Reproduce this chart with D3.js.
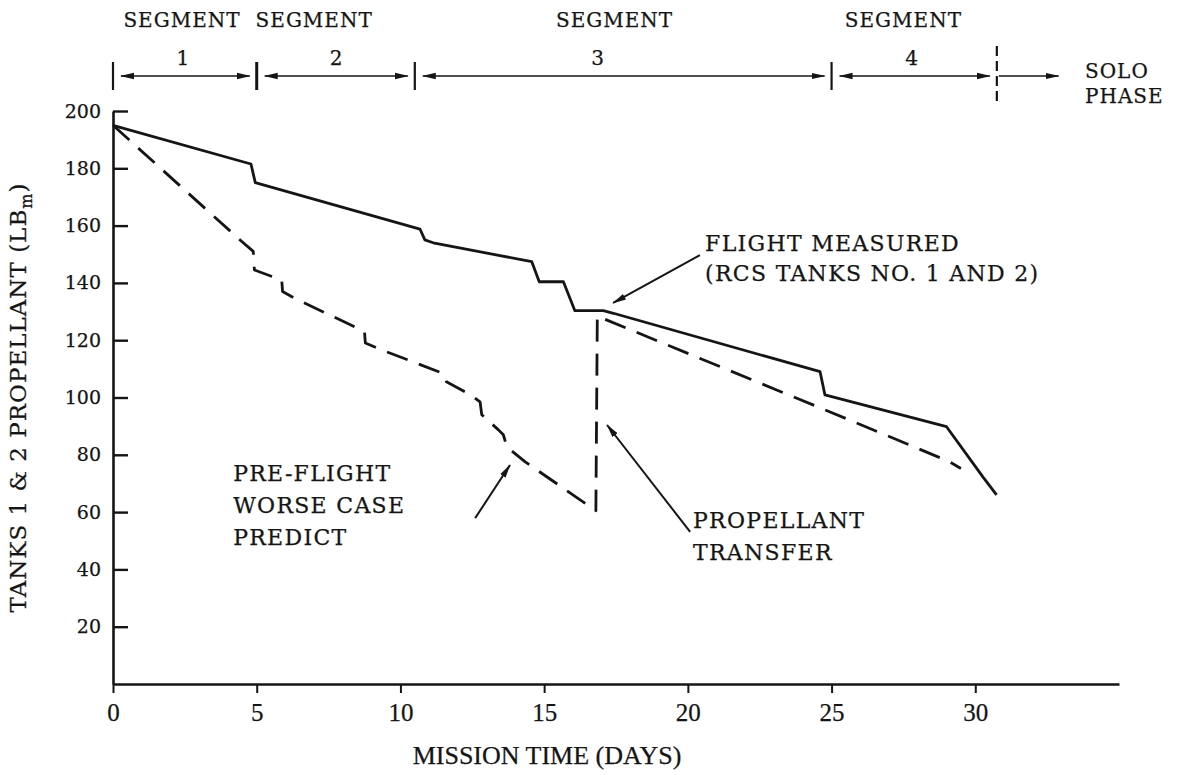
<!DOCTYPE html>
<html>
<head>
<meta charset="utf-8">
<script src="https://cdn.jsdelivr.net/npm/d3@7"></script>
<style>
  body { margin: 0; background: #fff; }
  text { font-family: "DejaVu Serif", serif; fill: #151515; stroke: #151515; stroke-width: 0.25px; }
</style>
</head>
<body>
<svg id="chart" width="1178" height="775"></svg>
<script>
// Axis ticks
const dayTicks = [0, 5, 10, 15, 20, 25, 30];
const lbTicks = [20, 40, 60, 80, 100, 120, 140, 160, 180, 200];

// Flight measured propellant, RCS tanks 1 and 2
const measuredDays = [0, 4.8, 4.95, 10.68, 10.85, 11.14, 14.57, 14.83, 15.67, 16.07, 17.06, 17.41, 24.6, 24.77, 29.0, 30.27, 30.74];
const measuredLb   = [195, 181.5, 175, 158.8, 155, 154, 147.4, 140.4, 140.4, 130.3, 130.3, 129.4, 109, 100.9, 89.8, 72.2, 66];

// Pre-flight worse case prediction (with propellant transfer near day 17)
const predictDays = [0, 4.42, 4.88, 4.92, 5.87, 5.9, 6.33, 8.75, 8.78, 9.35, 11.49, 11.6, 12.42, 12.77, 12.83, 13.41, 13.58, 13.7, 14.33, 16.8, 16.85, 25.64, 29.1, 29.5];
const predictLb   = [195, 155, 151, 144.5, 141, 137, 134.6, 123, 119, 116.6, 108.4, 105.5, 101, 98.5, 94, 88.7, 87, 82.8, 77.6, 60.5, 128.4, 92.1, 77.6, 75.2];

// Mission segments (day boundaries) and labels
const segmentBounds = [0, 5, 10.5, 25, 30.75];
const segmentNumbers = ["1", "2", "3", "4"];
const segmentNumberDays = [2.45, 7.78, 16.88, 27.8];
const segmentTitleDays = [2.4, 7.0, 17.45, 27.5];
const soloArrowEndDay = 32.9;

const svg = d3.select("#chart");
const x = d3.scaleLinear().domain([0, 35]).range([113, 1119]);
const y = d3.scaleLinear().domain([0, 200]).range([684, 111]);

const ink = "#151515";

// arrowhead marker
const defs = svg.append("defs");
defs.append("marker")
  .attr("id", "head")
  .attr("viewBox", "0 0 14 8")
  .attr("refX", 13).attr("refY", 4)
  .attr("markerWidth", 14).attr("markerHeight", 8)
  .attr("markerUnits", "userSpaceOnUse")
  .attr("orient", "auto-start-reverse")
  .append("path").attr("d", "M0,0.8 L14,4 L0,7.2 Z").attr("fill", ink);

// X axis
const xAxis = d3.axisBottom(x).tickValues(dayTicks).tickSizeInner(9).tickSizeOuter(0).tickPadding(10);
const gx = svg.append("g").attr("transform", `translate(0,${y(0)})`).call(xAxis);
gx.select(".domain").attr("stroke", ink).attr("stroke-width", 2.6);
gx.selectAll(".tick line").attr("stroke", ink).attr("stroke-width", 2);
gx.selectAll(".tick text")
  .style("font-family", "'Liberation Serif', serif")
  .style("font-size", "25px").attr("fill", ink);

// Y axis with inward ticks
const yAxis = d3.axisLeft(y).tickValues(lbTicks).tickSizeInner(-15).tickSizeOuter(0).tickPadding(12);
const gy = svg.append("g").attr("transform", `translate(${x(0)},0)`).call(yAxis);
gy.select(".domain").attr("stroke", ink).attr("stroke-width", 2.6);
gy.selectAll(".tick line").attr("stroke", ink).attr("stroke-width", 2.4);
gy.selectAll(".tick text").style("font-size", "19px").attr("fill", ink);

// Axis titles
svg.append("text")
  .attr("x", 547).attr("y", 764)
  .attr("text-anchor", "middle")
  .style("font-family", "'Liberation Serif', serif")
  .style("font-size", "26px")
  .text("MISSION TIME (DAYS)");

const yTitle = svg.append("text")
  .attr("transform", `translate(26,${(y(0) + y(200)) / 2}) rotate(-90)`)
  .attr("text-anchor", "middle")
  .style("font-size", "23px").style("letter-spacing", "1px");
yTitle.append("tspan").text("TANKS 1 & 2 PROPELLANT (LB");
yTitle.append("tspan").attr("dy", 6).style("font-size", "16px").text("m");
yTitle.append("tspan").attr("dy", -6).text(")");

// Data lines
const line = d3.line().x(d => x(d[0])).y(d => y(d[1]));
const measured = measuredDays.map((d, i) => [d, measuredLb[i]]);
const predict = predictDays.map((d, i) => [d, predictLb[i]]);

svg.append("path").datum(measured)
  .attr("d", line).attr("fill", "none")
  .attr("stroke", ink).attr("stroke-width", 2.8)
  .attr("stroke-linejoin", "round");

svg.append("path").datum(predict)
  .attr("d", line).attr("fill", "none")
  .attr("stroke", ink).attr("stroke-width", 2.8)
  .attr("stroke-dasharray", "22,12")
  .attr("stroke-linejoin", "round");

// Segment header
const hdrArrowY = 76, hdrBarTop = 62, hdrBarBot = 90;
const labelStyle = sel => sel.style("font-size", "22px").style("letter-spacing", "1.3px");
const headerStyle = sel => sel.style("font-size", "20px").style("letter-spacing", "1px");

segmentBounds.slice(0, 4).forEach((b, i) => {
  svg.append("line")
    .attr("x1", x(b)).attr("x2", x(b))
    .attr("y1", hdrBarTop).attr("y2", hdrBarBot)
    .attr("stroke", ink).attr("stroke-width", i === 1 ? 3 : 2.2);
});
// dashed boundary at start of solo phase
svg.append("line")
  .attr("x1", x(segmentBounds[4])).attr("x2", x(segmentBounds[4]))
  .attr("y1", 46).attr("y2", 106)
  .attr("stroke", ink).attr("stroke-width", 2.2)
  .attr("stroke-dasharray", "10,5");

for (let i = 0; i < 4; i++) {
  svg.append("line")
    .attr("x1", x(segmentBounds[i]) + 8).attr("x2", x(segmentBounds[i + 1]) - 7)
    .attr("y1", hdrArrowY).attr("y2", hdrArrowY)
    .attr("stroke", ink).attr("stroke-width", 1.6)
    .attr("marker-start", "url(#head)").attr("marker-end", "url(#head)");
  svg.append("text").call(headerStyle)
    .attr("x", x(segmentTitleDays[i])).attr("y", 27)
    .attr("text-anchor", "middle").text("SEGMENT");
  svg.append("text").call(headerStyle)
    .attr("x", x(segmentNumberDays[i])).attr("y", 65)
    .attr("text-anchor", "middle").text(segmentNumbers[i]);
}
svg.append("line")
  .attr("x1", x(segmentBounds[4]) + 2).attr("x2", x(soloArrowEndDay))
  .attr("y1", hdrArrowY).attr("y2", hdrArrowY)
  .attr("stroke", ink).attr("stroke-width", 1.6)
  .attr("marker-end", "url(#head)");
svg.append("text").call(headerStyle).attr("x", 1085).attr("y", 78).text("SOLO");
svg.append("text").call(headerStyle).attr("x", 1085).attr("y", 103).text("PHASE");

// Annotations (anchored in data units)
const notes = [
  { day: 20.6, lb: [153.9, 143.5], lines: ["FLIGHT MEASURED", "(RCS TANKS NO. 1 AND 2)"],
    from: [20.42, 149.7], to: [17.4, 133] },
  { day: 20.18, lb: [57.2, 46.1], lines: ["PROPELLANT", "TRANSFER"],
    from: [20.08, 53.1], to: [17.19, 90.4] },
  { day: 4.18, lb: [73.6, 62.5, 51.3], lines: ["PRE-FLIGHT", "WORSE CASE", "PREDICT"],
    from: [12.6, 57.9], to: [13.81, 76.4] }
];
notes.forEach(n => {
  n.lines.forEach((t, i) => {
    svg.append("text").call(labelStyle)
      .attr("x", x(n.day)).attr("y", y(n.lb[i]))
      .attr("dy", "0.36em").text(t);
  });
  svg.append("line")
    .attr("x1", x(n.from[0])).attr("y1", y(n.from[1]))
    .attr("x2", x(n.to[0])).attr("y2", y(n.to[1]))
    .attr("stroke", ink).attr("stroke-width", 2)
    .attr("marker-end", "url(#head)");
});
</script>
</body>
</html>
